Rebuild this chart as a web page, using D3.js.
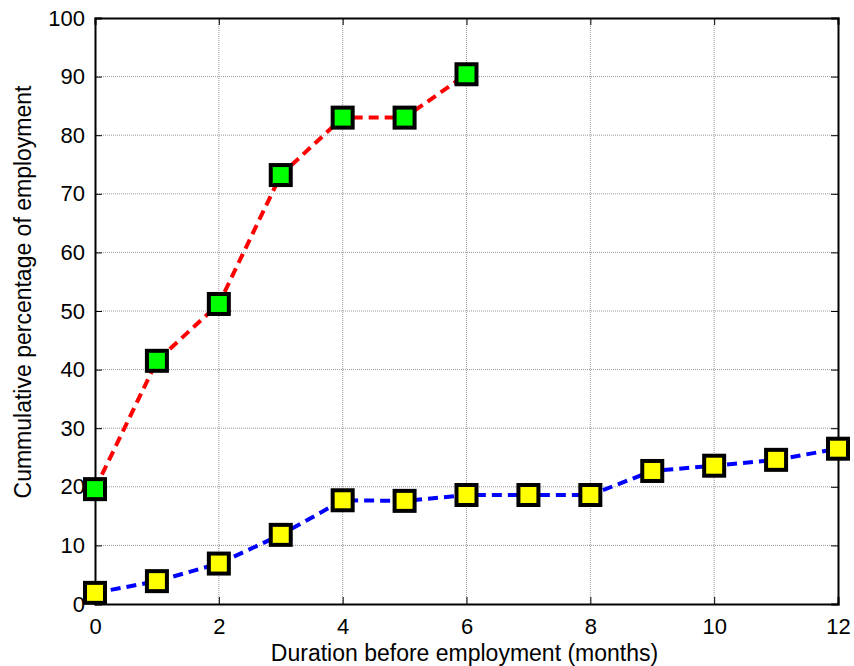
<!DOCTYPE html>
<html><head><meta charset="utf-8">
<script src="https://cdn.jsdelivr.net/npm/d3@7"></script>
<style>body{margin:0;background:#fff}svg{display:block}text{font-family:"Liberation Sans",Arial,sans-serif}</style>
</head><body><svg id="c" width="854" height="666"></svg>
<script>
const greenX = [0,1,2,3,4,5,6];
const greenY = [19.6,41.5,51.2,73.2,83.0,83.0,90.4];
const yellowX = [0,1,2,3,4,5,6,7,8,9,10,11,12];
const yellowY = [1.9,3.9,6.9,11.8,17.7,17.6,18.6,18.6,18.6,22.7,23.6,24.6,26.5];
const xTicks = [0,2,4,6,8,10,12];
const yTicks = [0,10,20,30,40,50,60,70,80,90,100];
const xLabel = "Duration before employment (months)";
const yLabel = "Cummulative percentage of employment";

const svg = d3.select("#c");
const L=95,R=838,T=18,B=604;
const x = d3.scaleLinear().domain([0,12]).range([L,R]);
const y = d3.scaleLinear().domain([0,100]).range([B,T]);

// grid
const g = svg.append("g");
g.selectAll(".gx").data(xTicks.slice(1,-1)).join("line")
 .attr("x1",d=>x(d)).attr("x2",d=>x(d)).attr("y1",T).attr("y2",B)
 .attr("stroke","#999").attr("stroke-width",1).attr("stroke-dasharray","1,1");
g.selectAll(".gy").data(yTicks.slice(1,-1)).join("line")
 .attr("y1",d=>y(d)).attr("y2",d=>y(d)).attr("x1",L).attr("x2",R)
 .attr("stroke","#999").attr("stroke-width",1).attr("stroke-dasharray","1,1");

// axes
const fs = 22;
const ax = svg.append("g").attr("transform",`translate(0,${B})`)
 .call(d3.axisBottom(x).tickValues(xTicks).tickSize(-7).tickPadding(14));
const axT = svg.append("g").attr("transform",`translate(0,${T})`)
 .call(d3.axisTop(x).tickValues(xTicks).tickSize(-7).tickFormat(""));
const ay = svg.append("g").attr("transform",`translate(${L},0)`)
 .call(d3.axisLeft(y).tickValues(yTicks).tickSize(-7).tickPadding(10));
const ayR = svg.append("g").attr("transform",`translate(${R},0)`)
 .call(d3.axisRight(y).tickValues(yTicks).tickSize(-7).tickFormat(""));
[ax,axT,ay,ayR].forEach(a=>{
  a.selectAll("path").attr("stroke","#000").attr("stroke-width",2);
  a.selectAll("line").attr("stroke","#000");
  a.selectAll("text").attr("font-size",fs).attr("fill","#000").attr("font-family",null);
});

svg.append("text").attr("x",(L+R)/2-2).attr("y",661).attr("text-anchor","middle")
 .attr("font-size",23).text(xLabel);
svg.append("text").attr("transform",`translate(31,292) rotate(-90)`)
 .attr("text-anchor","middle").attr("font-size",23).text(yLabel);

const line = d3.line().x(d=>x(d[0])).y(d=>y(d[1]));
const gd = greenX.map((v,i)=>[v,greenY[i]]);
const yd = yellowX.map((v,i)=>[v,yellowY[i]]);
svg.append("path").datum(gd).attr("d",line).attr("fill","none")
 .attr("stroke","#ff0000").attr("stroke-width",4).attr("stroke-dasharray","10,6");
svg.append("path").datum(yd).attr("d",line).attr("fill","none")
 .attr("stroke","#0000ff").attr("stroke-width",4).attr("stroke-dasharray","10,6");

const s=20;
function markers(data,fill){
  svg.append("g").selectAll("rect").data(data).join("rect")
   .attr("x",d=>x(d[0])-s/2).attr("y",d=>y(d[1])-s/2).attr("width",s).attr("height",s)
   .attr("fill",fill).attr("stroke","#000").attr("stroke-width",4);
}
markers(gd,"#00ff00");
markers(yd,"#ffff00");
</script></body></html>
